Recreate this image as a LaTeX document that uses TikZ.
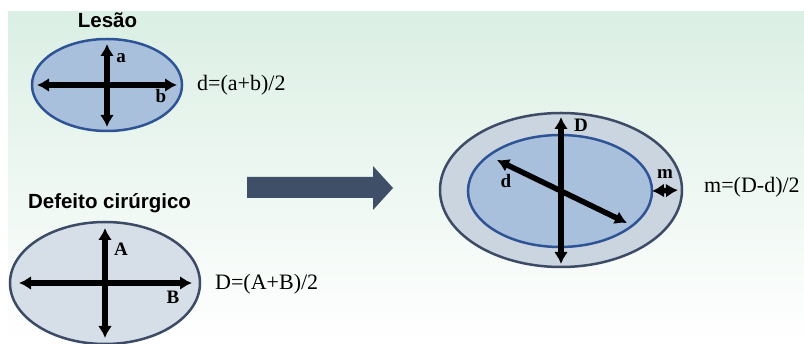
\documentclass[tikz,border=0pt]{standalone}
\usepackage{fontspec}
\setmainfont{Liberation Serif}
\newfontfamily\headfont{Liberation Sans}
\usetikzlibrary{arrows.meta,positioning,shapes.geometric}
\definecolor{bgtop}{RGB}{219,239,228}
\definecolor{lesionfill}{RGB}{169,192,221}
\definecolor{lesionline}{RGB}{47,84,150}
\definecolor{defectfill}{RGB}{214,222,232}
\definecolor{defectline}{RGB}{61,75,102}
\definecolor{marginfill}{RGB}{203,213,223}
\definecolor{arrowfill}{RGB}{62,79,103}

\tikzset{
  lesion/.style={ellipse, draw=lesionline, fill=lesionfill, line width=2.5pt, inner sep=0pt, outer sep=0pt},
  defect/.style={ellipse, draw=defectline, fill=defectfill, line width=2.5pt, inner sep=0pt, outer sep=0pt},
  margin/.style={ellipse, draw=defectline, fill=marginfill, line width=2.5pt, inner sep=0pt, outer sep=0pt},
  dim/.style={line width=5.5pt, {Latex[length=12pt,width=14pt]}-{Latex[length=12pt,width=14pt]}},
  lbl/.style={font=\fontsize{19}{21}\selectfont\bfseries, inner sep=0pt},
  title/.style={font=\headfont\fontsize{20.5}{22}\selectfont\bfseries, anchor=base, inner sep=0pt},
  formula/.style={font=\fontsize{22}{24}\selectfont, anchor=base west, inner sep=0pt}
}

\begin{document}
\begin{tikzpicture}[x=1pt, y=-1pt]
    % page and background
    \fill[white] (0,0) rectangle (804,344);
    \useasboundingbox (0,0) rectangle (804,344);
    \fill[top color=bgtop, bottom color=white] (8,12) rectangle (804,344);

    % lesion (top left)
    \node[title] (tlesao) at (107.5,28) {Lesão};
    \node[lesion, minimum width=150pt, minimum height=92pt] (les) at (107,85) {};
    \draw[dim, shorten <=5pt, shorten >=5pt] (les.west) -- (les.east);
    \draw[dim, shorten <=5pt, shorten >=4pt] (les.north) -- (les.south);
    \node[lbl] (la) at (121,58) {a};
    \node[lbl] (lb) at (161,96) {b};
    \node[formula] (fd) at (197,91) {d=(a+b)/2};

    % surgical defect (bottom left)
    \node[title] (tdefeito) at (109.5,209) {Defeito cirúrgico};
    \node[defect, minimum width=190pt, minimum height=122pt] (def) at (105,283) {};
    \draw[dim, shorten <=9pt, shorten >=8pt] (def.west) -- (def.east);
    \draw[dim, shorten <=6pt, shorten >=6pt] (def.north) -- (def.south);
    \node[lbl] (lA) at (121,249) {A};
    \node[lbl] (lB) at (173,297) {B};
    \node[formula] (fD) at (215,290) {D=(A+B)/2};

    % big arrow
    \fill[arrowfill] (247,177) -- (373,177) -- (373,166) -- (393,188)
      -- (373,210) -- (373,198) -- (247,198) -- cycle;

    % margin: defect around lesion
    \node[margin, minimum width=242pt, minimum height=154pt] (outer) at (561,190) {};
    \node[lesion, minimum width=184pt, minimum height=112pt] (inner) at (560,191) {};
    \draw[dim, shorten <=4pt, shorten >=3pt] (outer.north) -- (outer.south);
    \coordinate (dstart) at (497,160);
    \coordinate (dend) at (627,223);
    \draw[dim] (dstart) -- (dend);
    \draw[dim, shorten >=4pt] (inner.east) -- (outer.east);
    \node[lbl] (lD) at (581,125) {D};
    \node[lbl] (ld) at (506,181) {d};
    \node[lbl] (lm) at (665,174) {m};
    \node[formula] (fm) at (704,193) {m=(D-d)/2};
\end{tikzpicture}
\end{document}
